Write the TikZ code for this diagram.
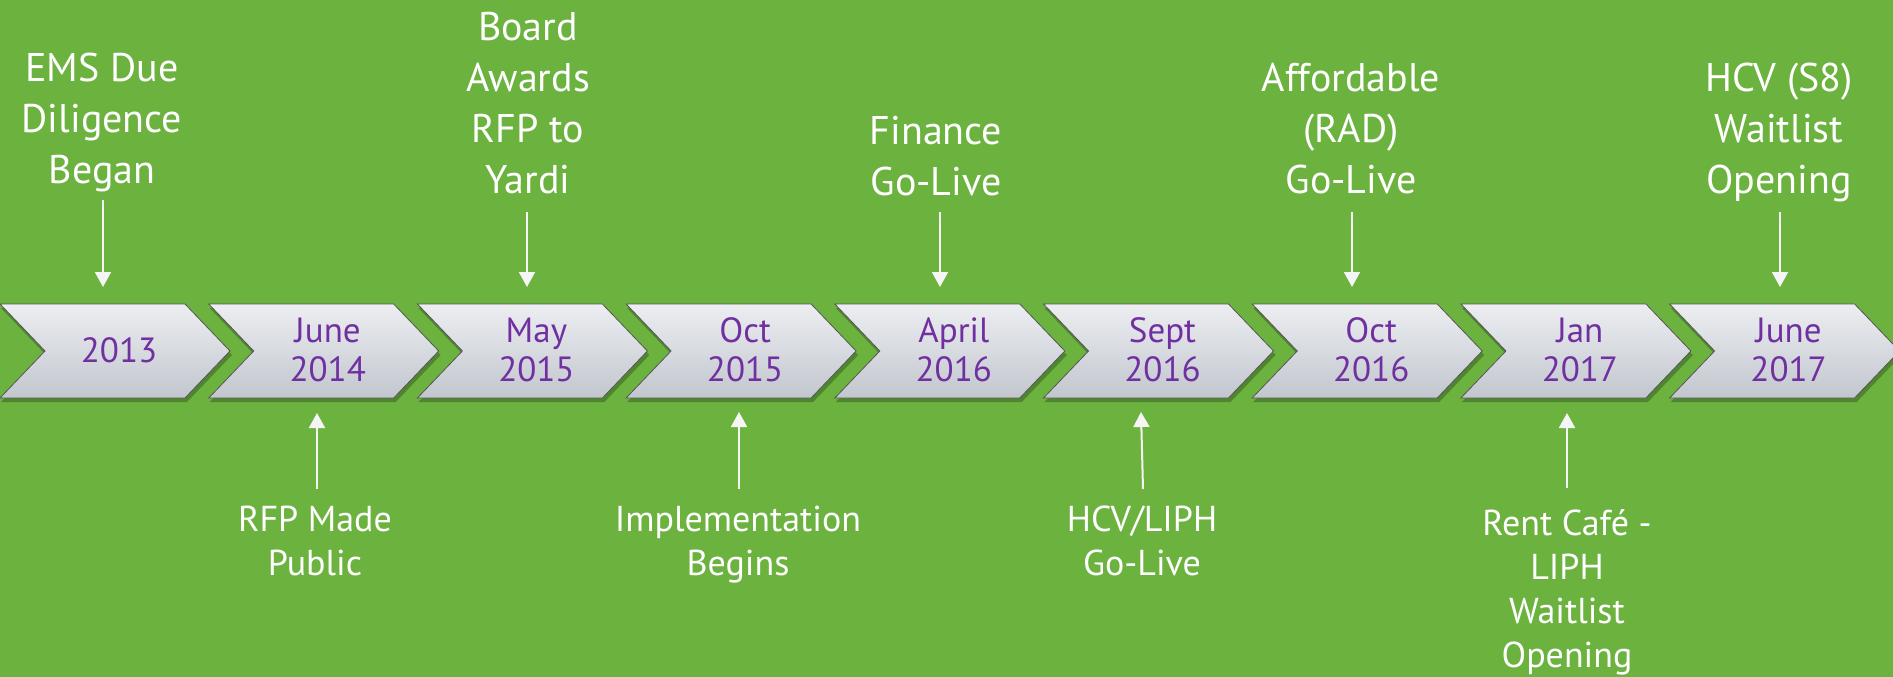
\documentclass[tikz,border=0pt]{standalone}
\usepackage{fontspec}
\setmainfont{PT Sans}
\usetikzlibrary{arrows.meta}
\definecolor{bg}{RGB}{108,178,63}
\definecolor{txtp}{RGB}{112,48,160}
\definecolor{chtop}{RGB}{236,238,241}
\definecolor{chbot}{RGB}{194,198,206}
\definecolor{chline}{RGB}{85,85,85}
\definecolor{arrw}{RGB}{245,245,245}
\begin{document}
\begin{tikzpicture}[x=1pt,y=-1pt,
  toplabel/.style={text=white, font=\fontsize{40}{51}\selectfont, align=center, anchor=base, inner sep=0pt},
  botlabel/.style={text=white, font=\fontsize{36}{44}\selectfont, align=center, anchor=base, inner sep=0pt},
  datelabel/.style={text=txtp, font=\fontsize{35}{39}\selectfont, align=center, anchor=base, inner sep=0pt},
  arr/.style={draw=arrw, line width=2pt, -{Triangle[width=16pt,length=15pt]}},
  chev/.style={draw=chline, line width=0.8pt, top color=chtop, bottom color=chbot},
  chevshadow/.style={fill=black, opacity=0.25}
]
\useasboundingbox (0,0) rectangle (1893,677);
\fill[bg] (0,0) rectangle (1893,677);
\clip (0,0) rectangle (1893,677);
% chevrons
\foreach \i in {0,...,8}{
  \pgfmathsetmacro\L{208.7*\i}
  \fill[chevshadow] (\L+1,308) -- (\L+187,308) -- (\L+232,355) -- (\L+187,402) -- (\L+1,402) -- (\L+46,355) -- cycle;
  \path[chev] (\L,304) -- (\L+185,304) -- (\L+230,351) -- (\L+185,398) -- (\L,398) -- (\L+45,351) -- cycle;
}
% dates (anchor = baseline of last line)
\node[datelabel] (d0) at (119,362) {2013};
\node[datelabel] (d1) at (327.7,381) {June\\2014};
\node[datelabel] (d2) at (536.4,381) {May\\2015};
\node[datelabel] (d3) at (745.1,381) {Oct\\2015};
\node[datelabel] (d4) at (953.8,381) {April\\2016};
\node[datelabel] (d5) at (1162.5,381) {Sept\\2016};
\node[datelabel] (d6) at (1371.2,381) {Oct\\2016};
\node[datelabel] (d7) at (1579.9,381) {Jan\\2017};
\node[datelabel] (d8) at (1788.6,381) {June\\2017};
% top labels
\node[toplabel] (t0) at (102,183) {EMS Due\\Diligence\\Began};
\node[toplabel] (t2) at (528,193) {Board\\Awards\\RFP to\\Yardi};
\node[toplabel] (t4) at (936,195) {Finance\\Go-Live};
\node[toplabel] (t6) at (1351,193) {Affordable\\(RAD)\\Go-Live};
\node[toplabel] (t8) at (1779,193) {HCV (S8)\\Waitlist\\Opening};
% bottom labels
\node[botlabel] (b1) at (315,575) {RFP Made\\Public};
\node[botlabel] (b3) at (738,575) {Implementation\\Begins};
\node[botlabel] (b5) at (1142,575) {HCV/LIPH\\Go-Live};
\node[botlabel] (b7) at (1567,667) {Rent Café -\\LIPH\\Waitlist\\Opening};
% arrow ends
\coordinate (t0s) at (103,200); \coordinate (t0e) at (103,287);
\coordinate (t2s) at (527,212); \coordinate (t2e) at (527,287);
\coordinate (t4s) at (940,212); \coordinate (t4e) at (940,287);
\coordinate (t6s) at (1352,212); \coordinate (t6e) at (1352,287);
\coordinate (t8s) at (1780,212); \coordinate (t8e) at (1780,287);
\coordinate (b1s) at (317,489); \coordinate (b1e) at (317,413);
\coordinate (b3s) at (739,489); \coordinate (b3e) at (739,412);
\coordinate (b5s) at (1143,489); \coordinate (b5e) at (1141,412);
\coordinate (b7s) at (1567,488); \coordinate (b7e) at (1567,413);
\foreach \a in {t0,t2,t4,t6,t8,b1,b3,b5,b7}{
  \draw[arr] (\a s) -- (\a e);
}
\end{tikzpicture}
\end{document}
